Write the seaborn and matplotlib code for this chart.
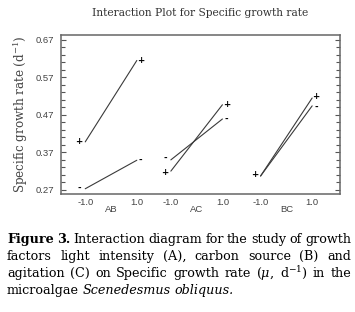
import numpy as np
import pandas as pd
import matplotlib
matplotlib.use("Agg")
import matplotlib.pyplot as plt
import seaborn as sns
from matplotlib.ticker import AutoMinorLocator

# --------------------------------------------
# Data
# --------------------------------------------
panels = ["AB", "AC", "BC"]
levels = [-1.0, 1.0]
plus_values = {"AB": [0.398, 0.615], "AC": [0.320, 0.497], "BC": [0.307, 0.515]}
minus_values = {"AB": [0.273, 0.349], "AC": [0.350, 0.459], "BC": [0.307, 0.494]}
y_ticks = [0.27, 0.37, 0.47, 0.57, 0.67]
x_tick_labels = ["-1.0", "1.0"]
panel_centers = [0.0, 3.32, 6.8]

rows = []
for p, c in zip(panels, panel_centers):
    for sign, vals in (("+", plus_values[p]), ("-", minus_values[p])):
        for lv, v in zip(levels, vals):
            rows.append({"panel": p, "sign": sign, "level": lv, "x": c + lv,
                         "value": v, "group": p + sign})
df = pd.DataFrame(rows)

# --------------------------------------------
# Figure
# --------------------------------------------
sns.set_style("white")
plt.rcParams["font.family"] = ["DejaVu Sans"]
plt.rcParams["mathtext.fontset"] = "dejavuserif"

fig = plt.figure(figsize=(3.55, 3.12), dpi=100)
ax = fig.add_axes([61 / 355, 1 - 194 / 312, 279 / 355, 159 / 312])

sns.lineplot(data=df, x="x", y="value", units="group", estimator=None,
             color="#3a3a3a", linewidth=0.8, ax=ax, legend=False)

# +/- markers at the line ends (a "-" hidden under a "+" is not drawn)
for _, r in df.iterrows():
    other_sign = "+" if r["sign"] == "-" else "-"
    other = df[(df["panel"] == r["panel"]) & (df["sign"] == other_sign) &
               (df["level"] == r["level"])]["value"].iloc[0]
    diff = abs(other - r["value"])
    if r["sign"] == "-" and diff < 0.005:
        continue
    dy = 0
    if diff < 0.03:
        dy = 1.5 if r["value"] >= other else -1.5
    dx = -6 if r["level"] < 0 else 4
    ax.annotate(r["sign"], (r["x"], r["value"]), xytext=(dx, dy),
                textcoords="offset pixels", ha="center", va="center",
                fontsize=6.3, color="black", fontweight="bold")

ax.set_xlim(-1.94, 8.88)
ax.set_ylim(0.259, 0.683)

xt = [c + lv for c in panel_centers for lv in levels]
ax.set_xticks(xt)
ax.set_xticklabels(x_tick_labels * len(panels), fontsize=6.8, color="#444444",
                   family="Liberation Sans")
ax.tick_params(axis="x", length=0, pad=3)
for p, c in zip(panels, panel_centers):
    ax.text(c, -0.1, p, transform=ax.get_xaxis_transform(), ha="center",
            va="center", fontsize=6.8, color="#444444", family="Liberation Sans")

ax.set_yticks(y_ticks)
ax.set_yticklabels([f"{t:.2f}" for t in y_ticks], fontsize=6.8, color="#444444",
                   family="Liberation Sans")
ax.yaxis.set_minor_locator(AutoMinorLocator(5))
ax.tick_params(axis="y", which="both", direction="in", left=True, right=True,
               length=3.5, width=0.8, color="#555555", pad=5)
ax.tick_params(axis="y", which="minor", length=3)

for s in ax.spines.values():
    s.set_color("#666666")
    s.set_linewidth(1.1)

ax.set_xlabel("")
ax.set_ylabel("Specific growth rate (d$^{\\mathregular{-1}}$)", family="DejaVu Serif",
              fontsize=8.6, color="#444444", labelpad=4)

fig.text(200 / 355, 1 - 13 / 312, "Interaction Plot for Specific growth rate",
         ha="center", va="center", family="DejaVu Serif", fontsize=7.7,
         color="#333333")

# --------------------------------------------
# Caption (justified, word by word)
# --------------------------------------------
B = {"fontweight": "bold"}
I = {"style": "italic"}
N = {}
caption_lines = [
    [("Figure", B), ("3.", B), ("Interaction", N), ("diagram", N), ("for", N),
     ("the", N), ("study", N), ("of", N), ("growth", N)],
    [("factors", N), ("light", N), ("intensity", N), ("(A),", N), ("carbon", N),
     ("source", N), ("(B)", N), ("and", N)],
    [("agitation", N), ("(C)", N), ("on", N), ("Specific", N), ("growth", N),
     ("rate", N), ("($\\mu$,", N), ("d$^{\\mathregular{-1}}$)", N), ("in", N),
     ("the", N)],
    [("microalgae", N), ("Scenedesmus", I), ("obliquus.", I)],
]
baselines = [243, 260, 277, 294]
x_left, x_right = 7, 351
renderer = fig.canvas.get_renderer()

for line, yb, is_last in zip(caption_lines, baselines,
                             [False, False, False, True]):
    texts = [fig.text(0, 1 - yb / 312, w, family="DejaVu Serif", fontsize=9.2,
                      va="baseline", ha="left", color="black", **kw)
             for w, kw in line]
    widths = [t.get_window_extent(renderer).width for t in texts]
    if is_last:
        gap = 3.5
    else:
        gap = (x_right - x_left - sum(widths)) / (len(texts) - 1)
    x = x_left
    for t, w in zip(texts, widths):
        t.set_x(x / 355)
        x += w + gap

fig.savefig("out.png", dpi=100)
